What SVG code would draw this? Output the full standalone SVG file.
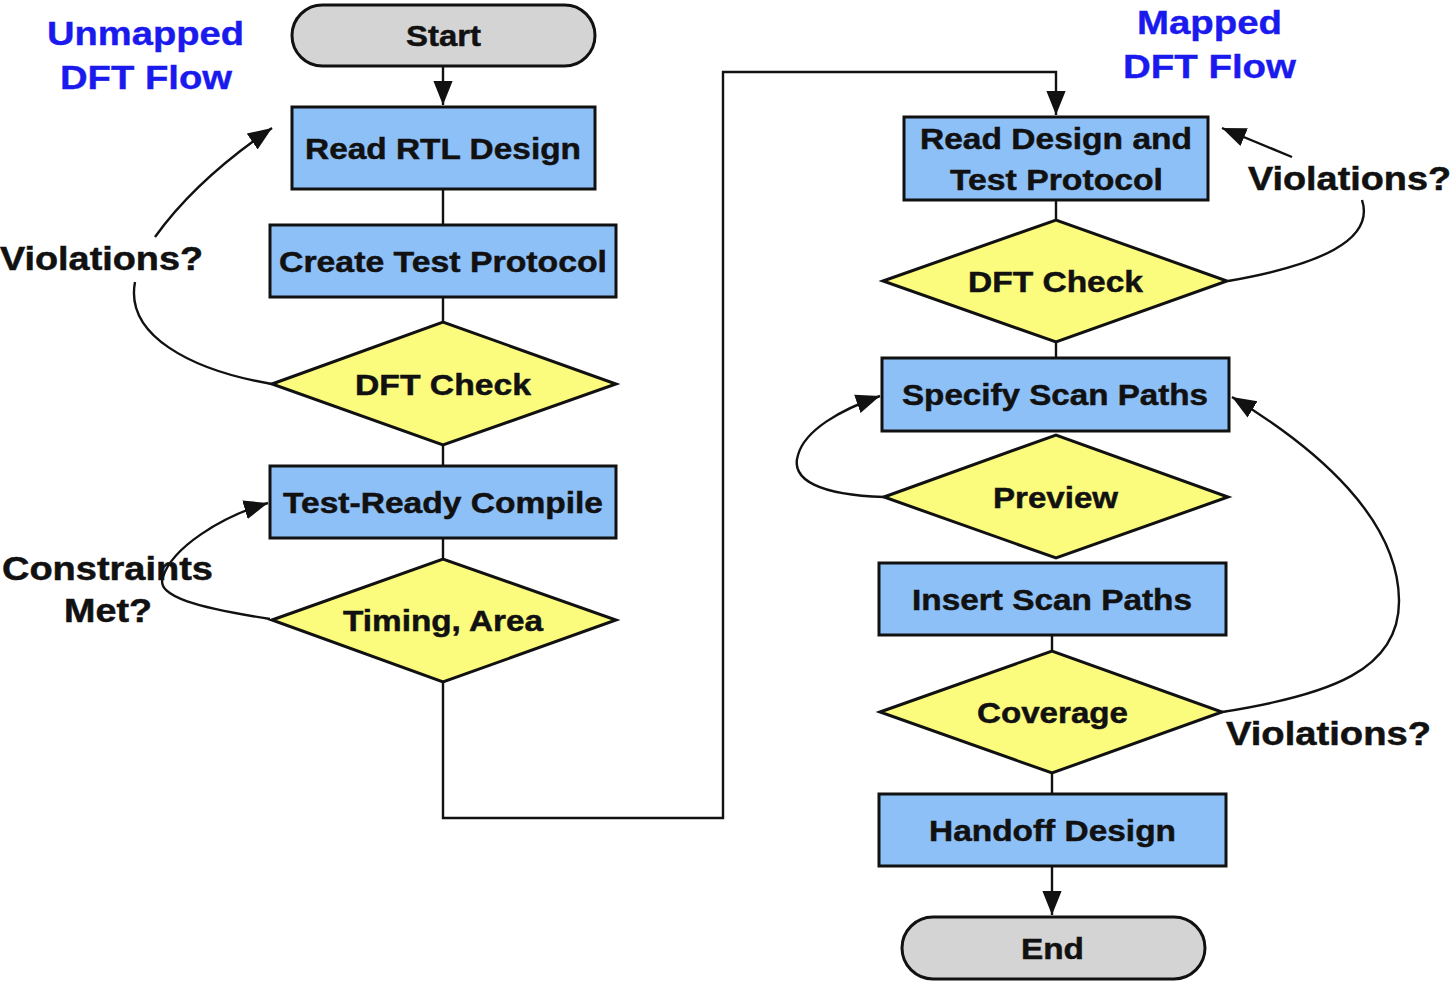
<svg xmlns="http://www.w3.org/2000/svg" width="1454" height="998" viewBox="0 0 1454 998">
<style>
.box{fill:#8ec0f8;stroke:#111;stroke-width:3}
.dia{fill:#fbfb7e;stroke:#111;stroke-width:3}
.term{fill:#d4d4d4;stroke:#111;stroke-width:3}
.t{font-family:"Liberation Sans",Arial,sans-serif;font-weight:bold;font-size:30px;fill:#111;stroke:#111;stroke-width:0.5;text-anchor:middle}
.lbl{font-family:"Liberation Sans",Arial,sans-serif;font-weight:bold;font-size:33px;fill:#111;stroke:#111;stroke-width:0.5}
.title{font-family:"Liberation Sans",Arial,sans-serif;font-weight:bold;font-size:34px;fill:#1a1aee;stroke:#1a1aee;stroke-width:0.4;text-anchor:middle}
.c{fill:none;stroke:#111;stroke-width:2.4}
</style>
<defs>
<marker id="ahb" viewBox="0 0 10 10" refX="10" refY="5" markerWidth="24" markerHeight="24" markerUnits="userSpaceOnUse" orient="auto">
<path d="M0,1 L10,5 L0,9 z" fill="#111"/>
</marker>
</defs>
<rect width="1454" height="998" fill="#fff"/>

<g id="connectors">
<path class="c" d="M443,66 V105" marker-end="url(#ahb)"/>
<path class="c" d="M443,189 V225 M443,297 V322 M443,445 V466 M443,538 V559"/>
<path class="c" d="M443,682 V818 H723 V72 H1056 V115" marker-end="url(#ahb)"/>
<path class="c" d="M1056,200 V220 M1056,342 V358 M1052,635 V651 M1052,773 V794"/>
<path class="c" d="M1052,866 V915" marker-end="url(#ahb)"/>
<path class="c" d="M155,237 C185,195 225,160 272,128" marker-end="url(#ahb)"/>
<path class="c" d="M135,282 C125,335 190,370 272,384"/>
<path class="c" d="M270,619 C200,608 155,597 163,577 C172,548 220,517 268,503" marker-end="url(#ahb)"/>
<path class="c" d="M1292,157 L1222,128" marker-end="url(#ahb)"/>
<path class="c" d="M1228,281 C1320,265 1375,240 1362,200"/>
<path class="c" d="M884,497 C820,495 790,480 798,455 C805,430 840,410 880,396" marker-end="url(#ahb)"/>
<path class="c" d="M1222,712 C1330,695 1400,670 1399,600 C1398,520 1320,450 1232,397" marker-end="url(#ahb)"/>
</g>

<g id="start"><rect class="term" x="292" y="5" width="303" height="61" rx="30.5"/><text class="t" x="443.5" y="46" textLength="75" lengthAdjust="spacingAndGlyphs">Start</text></g>
<g id="read-rtl"><rect class="box" x="292" y="107" width="303" height="82"/><text class="t" x="443" y="159" textLength="276" lengthAdjust="spacingAndGlyphs">Read RTL Design</text></g>
<g id="create-protocol"><rect class="box" x="270" y="225" width="346" height="72"/><text class="t" x="443" y="272" textLength="328" lengthAdjust="spacingAndGlyphs">Create Test Protocol</text></g>
<g id="dft-check-1"><polygon class="dia" points="272,384 443,322 616,384 443,445"/><text class="t" x="443" y="395" textLength="176" lengthAdjust="spacingAndGlyphs">DFT Check</text></g>
<g id="compile"><rect class="box" x="270" y="466" width="346" height="72"/><text class="t" x="443" y="513" textLength="320" lengthAdjust="spacingAndGlyphs">Test-Ready Compile</text></g>
<g id="timing"><polygon class="dia" points="272,620 443,559 616,620 443,682"/><text class="t" x="443" y="631" textLength="200" lengthAdjust="spacingAndGlyphs">Timing, Area</text></g>

<g id="read-design"><rect class="box" x="904" y="117" width="304" height="83"/><text class="t" x="1056" y="149" textLength="272" lengthAdjust="spacingAndGlyphs">Read Design and</text><text class="t" x="1056.5" y="190" textLength="213" lengthAdjust="spacingAndGlyphs">Test Protocol</text></g>
<g id="dft-check-2"><polygon class="dia" points="883,281 1056,220 1227,281 1056,342"/><text class="t" x="1055.5" y="292" textLength="175" lengthAdjust="spacingAndGlyphs">DFT Check</text></g>
<g id="specify"><rect class="box" x="882" y="358" width="347" height="73"/><text class="t" x="1055" y="405" textLength="306" lengthAdjust="spacingAndGlyphs">Specify Scan Paths</text></g>
<g id="preview"><polygon class="dia" points="884,497 1056,435 1228,497 1056,558"/><text class="t" x="1055.5" y="508" textLength="125" lengthAdjust="spacingAndGlyphs">Preview</text></g>
<g id="insert"><rect class="box" x="879" y="563" width="347" height="72"/><text class="t" x="1052" y="610" textLength="280" lengthAdjust="spacingAndGlyphs">Insert Scan Paths</text></g>
<g id="coverage"><polygon class="dia" points="880,712 1052,651 1222,712 1052,773"/><text class="t" x="1052.5" y="723" textLength="151" lengthAdjust="spacingAndGlyphs">Coverage</text></g>
<g id="handoff"><rect class="box" x="879" y="794" width="347" height="72"/><text class="t" x="1052.5" y="841" textLength="247" lengthAdjust="spacingAndGlyphs">Handoff Design</text></g>
<g id="end"><rect class="term" x="902" y="917" width="303" height="62" rx="31"/><text class="t" x="1052.5" y="959" textLength="63" lengthAdjust="spacingAndGlyphs">End</text></g>

<g id="labels">
<text class="title" x="145.5" y="45" textLength="197" lengthAdjust="spacingAndGlyphs">Unmapped</text>
<text class="title" x="146" y="89" textLength="172" lengthAdjust="spacingAndGlyphs">DFT Flow</text>
<text class="title" x="1209.5" y="34" textLength="145" lengthAdjust="spacingAndGlyphs">Mapped</text>
<text class="title" x="1209.5" y="78" textLength="173" lengthAdjust="spacingAndGlyphs">DFT Flow</text>
<text class="lbl" x="0" y="270" textLength="203" lengthAdjust="spacingAndGlyphs">Violations?</text>
<text class="lbl" x="2" y="580" textLength="211" lengthAdjust="spacingAndGlyphs">Constraints</text>
<text class="lbl" x="64" y="622" textLength="88" lengthAdjust="spacingAndGlyphs">Met?</text>
<text class="lbl" x="1248" y="190" textLength="203" lengthAdjust="spacingAndGlyphs">Violations?</text>
<text class="lbl" x="1226" y="745" textLength="205" lengthAdjust="spacingAndGlyphs">Violations?</text>
</g>
</svg>
